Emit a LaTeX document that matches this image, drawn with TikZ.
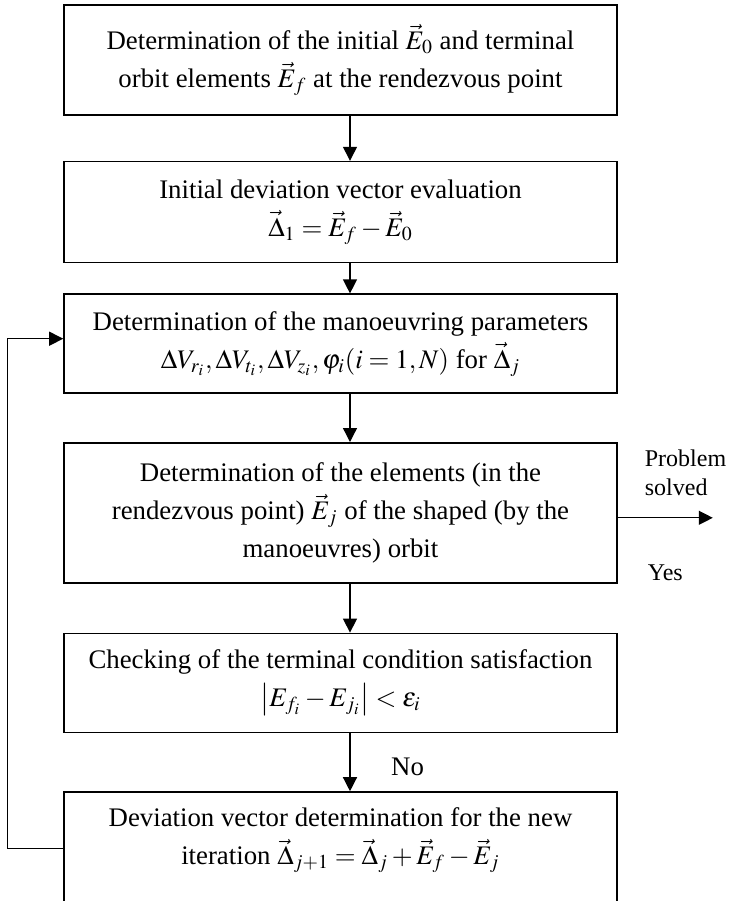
\documentclass[tikz,border=0pt]{standalone}
\usepackage{mathptmx}
\usepackage{fontspec}
\setmainfont{Liberation Serif}
\usetikzlibrary{arrows.meta,positioning}

\begin{document}
\begin{tikzpicture}[
  x=1pt, y=1pt,
  every node/.style = {font=\fontsize{13.4}{19}\selectfont},
  stage/.style = {draw, line width=0.8pt, align=center, minimum width=276.5pt, inner xsep=5pt},
  flow/.style = {-{Triangle[length=7pt,width=7pt]}, line width=0.65pt},
  note/.style = {align=left, font=\fontsize{12}{14.5}\selectfont}
]
\useasboundingbox (0,0) rectangle (364.5,-450.5);

\node[stage, minimum height=55pt] (init) at (170.25,-30)
  {Determination of the initial $\vec{E}_0$ and terminal\\
   orbit elements $\vec{E}_f$ at the rendezvous point};
\node[stage, minimum height=50.5pt, below=22.5pt of init] (dev)
  {Initial deviation vector evaluation\\
   $\vec{\Delta}_1 = \vec{E}_f - \vec{E}_0$};
\node[stage, minimum height=49.5pt, below=15pt of dev] (params)
  {Determination of the manoeuvring parameters\\
   $\Delta V_{r_i}, \Delta V_{t_i}, \Delta V_{z_i}, \varphi_i (i=1,N)$ for $\vec{\Delta}_j$};
\node[stage, minimum height=70pt, below=24pt of params] (elems)
  {Determination of the elements (in the\\
   rendezvous point) $\vec{E}_j$ of the shaped (by the\\
   manoeuvres) orbit};
\node[stage, minimum height=49.5pt, below=24.5pt of elems] (check)
  {Checking of the terminal condition satisfaction\\
   $\left|E_{f_i} - E_{j_i}\right| < \varepsilon_i$};
\node[stage, minimum height=65pt, below=29pt of check] (newdev) {};
\node[align=center] (newdevtext) at ([yshift=-24.5pt]newdev.north)
  {Deviation vector determination for the new\\
   iteration $\vec{\Delta}_{j+1} = \vec{\Delta}_j + \vec{E}_f - \vec{E}_j$};

% main flow
\draw[flow] ([xshift=4.75pt]init.south) -- ([xshift=4.75pt]dev.north);
\draw[flow] ([xshift=4.75pt]dev.south) -- ([xshift=4.75pt]params.north);
\draw[flow] ([xshift=4.75pt]params.south) -- ([xshift=4.75pt]elems.north);
\draw[flow] ([xshift=4.75pt]elems.south) -- ([xshift=4.75pt]check.north);
\draw[flow] ([xshift=4.75pt]check.south) -- ([xshift=4.75pt]newdev.north);

% exit and loop back
\coordinate (solved) at ([xshift=47.5pt, yshift=-2.5pt]elems.east);
\draw[flow] ([yshift=-2.5pt]elems.east) -- (solved);
\draw[flow] ([yshift=-28.5pt]newdev.north west) -- ++(-28,0) |- ([yshift=2.5pt]params.west);

\node[note, anchor=west] (solvedtext) at ([xshift=10pt, yshift=20pt]elems.east) {Problem\\solved};
\node[note, anchor=west] (yes) at ([xshift=11.5pt, yshift=-30pt]elems.east) {Yes};
\node[below right=9pt and 21.8pt of check.south] (no) {No};

\end{tikzpicture}
\end{document}
